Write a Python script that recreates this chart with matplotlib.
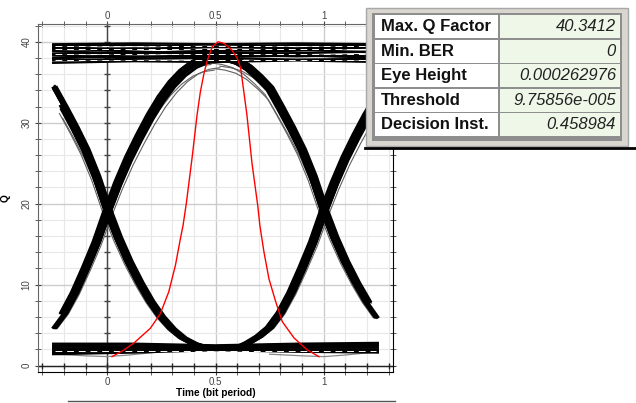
import numpy as np
import matplotlib.pyplot as plt
from matplotlib.patches import Rectangle

plt.rcParams['font.family'] = ['Liberation Sans', 'DejaVu Sans']

# edge templates, time relative to a bit boundary (crossing)
t_edge = [-0.5, -0.45, -0.4, -0.35, -0.3, -0.25, -0.2, -0.15, -0.1, -0.05, 0.0,
          0.05, 0.1, 0.15, 0.2, 0.25, 0.3, 0.35, 0.4, 0.45, 0.5]
q_rise = [2.0, 2.0, 2.2, 2.8, 3.6, 4.7, 6.5, 9.0, 12.0, 15.2, 19.0,
          22.5, 25.6, 28.3, 30.8, 33.0, 34.8, 36.2, 37.2, 37.8, 38.0]
q_fall = [38.2, 38.0, 37.6, 36.8, 35.6, 34.2, 31.8, 29.3, 26.6, 23.3, 19.3,
          15.8, 12.8, 10.2, 7.9, 6.0, 4.5, 3.4, 2.7, 2.3, 2.1]

# trace-to-trace spread of the edges (time shift, amplitude shift)
jit_dt = [-0.016, -0.012, -0.008, -0.004, 0.0, 0.004, 0.008, 0.012, 0.016,
          -0.021, 0.020, -0.006, 0.005]
jit_dq = [0.3, -0.2, 0.4, -0.3, 0.1, -0.1, 0.3, -0.4, 0.2,
          -0.8, -1.2, -1.5, 0.5]

# level bands ("1" and "0"), values at t = -0.25, 0.125, 0.5, 0.875, 1.25
band_t = [-0.25, 0.125, 0.5, 0.875, 1.25]
top_band = [[37.4, 37.6, 37.5, 37.7, 37.5], [37.7, 37.9, 38.0, 37.8, 37.9],
            [38.0, 38.2, 38.1, 38.3, 38.1], [38.3, 38.1, 38.4, 38.2, 38.4],
            [38.5, 38.7, 38.5, 38.6, 38.8], [38.8, 38.6, 38.9, 39.0, 38.7],
            [39.0, 39.2, 39.0, 39.1, 39.3], [39.3, 39.1, 39.4, 39.2, 39.4],
            [39.5, 39.6, 39.4, 39.6, 39.5], [39.7, 39.8, 39.7, 39.8, 39.7],
            [37.9, 38.5, 38.8, 38.4, 38.0], [39.2, 38.8, 38.5, 38.9, 39.4]]
top_streaks = [37.75, 38.45, 39.05, 39.45]
bot_band = [[1.4, 1.6, 1.9, 1.7, 1.6], [1.7, 1.8, 2.0, 1.9, 1.8],
            [1.9, 2.0, 2.1, 2.0, 2.0], [2.1, 2.2, 2.2, 2.2, 2.2],
            [2.3, 2.4, 2.3, 2.4, 2.4], [2.5, 2.6, 2.4, 2.6, 2.6],
            [2.7, 2.7, 2.5, 2.7, 2.8], [1.6, 1.9, 2.2, 1.8, 1.7]]
bot_streaks = [1.75]
dip_t = [-0.25, -0.1, 0.0, 0.1, 0.25]
dip_q = [1.4, 1.2, 1.1, 1.3, 1.7]

# Q factor versus sampling instant
qf_t = [0.022, 0.07, 0.122, 0.199, 0.245, 0.284, 0.315, 0.338, 0.350, 0.365, 0.392,
        0.415, 0.43, 0.446, 0.461, 0.485, 0.512, 0.54, 0.575, 0.6, 0.616, 0.63,
        0.645, 0.669, 0.695, 0.705, 0.724, 0.747, 0.778, 0.809, 0.863, 0.925, 0.978]
qf_q = [1.1, 1.8, 2.75, 4.6, 6.4, 9.1, 12.4, 15.7, 17.3, 20.0, 25.7,
        31.0, 33.8, 36.0, 37.6, 39.4, 40.0, 39.8, 39.0, 38.0, 36.8, 34.0,
        31.0, 24.9, 19.8, 17.3, 14.0, 10.7, 7.9, 5.4, 3.4, 1.9, 1.1]

table_labels = ['Max. Q Factor', 'Min. BER', 'Eye Height', 'Threshold', 'Decision Inst.']
table_values = ['40.3412', '0', '0.000262976', '9.75856e-005', '0.458984']

fig = plt.figure(figsize=(6.36, 4.03), dpi=100)
ax = fig.add_axes([38 / 636, 1 - 372 / 403, 355 / 636, 348 / 403])

t_edge = np.array(t_edge)
for i, (dt, dq) in enumerate(zip(jit_dt, jit_dq)):
    fringe = i >= 9
    col = '#606060' if fringe else 'black'
    lw = 0.8 if fringe else 2.0
    for shift in (0.0, 1.0):
        tt = t_edge + shift + dt
        m = (tt >= -0.25) & (tt <= 1.25)
        for qq in (q_rise, q_fall):
            q = np.array(qq) + dq * (np.array(qq) - 2) / 36
            ax.plot(tt[m], q[m], color=col, lw=lw, zorder=2 if fringe else 3)

for row in top_band + bot_band:
    ax.plot(band_t, row, color='black', lw=1.6, zorder=3)
for lvl in top_streaks + bot_streaks:
    ax.plot([-0.24, 1.24], [lvl, lvl], color='white', lw=0.7, ls=(0, (7, 5)), zorder=3)
for shift in (0.0, 1.0):
    tt = np.array(dip_t) + shift
    m = tt <= 1.25
    ax.plot(tt[m], np.array(dip_q)[m], color='#888888', lw=0.9, zorder=2)

ax.plot(qf_t, qf_q, color='red', lw=1.0, zorder=4)

ax.set_xlim(-0.32, 1.32)
ax.set_ylim(-0.8, 42.2)
ax.set_xticks([0, 0.5, 1])
ax.set_xticklabels(['0', '0.5', '1'])
ax.set_xticks(np.arange(-0.3, 1.31, 0.1), minor=True)
ax.set_yticks([0, 10, 20, 30, 40])
ax.set_yticks(np.arange(0, 42.1, 2), minor=True)
ax.tick_params(axis='x', which='both', top=True, direction='inout',
               labelsize=7, colors='#444444', pad=1)
ax.tick_params(axis='x', which='major', length=5)
ax.tick_params(axis='x', which='minor', length=4)
ax.tick_params(axis='y', which='both', right=True, direction='inout', labelsize=7,
               colors='#444444', pad=2)
ax.tick_params(axis='y', which='major', length=5)
ax.tick_params(axis='y', which='minor', length=4)
for lab in ax.get_yticklabels():
    lab.set_rotation(90)
    lab.set_va('center')
ax.grid(which='minor', color='#e8e8e8', lw=0.8, zorder=0)
ax.grid(which='major', color='#cccccc', lw=1.0, zorder=0)
ax.set_axisbelow(True)

sec = ax.secondary_xaxis('top')
sec.set_xticks([0, 0.5, 1])
sec.set_xticklabels(['0', '0.5', '1'])
sec.tick_params(length=0, pad=2, labelsize=7, colors='#444444')
sec.spines['top'].set_visible(False)

for s in ax.spines.values():
    s.set_color('#666666')
ax.spines['right'].set_color('black')
ax.spines['bottom'].set_color('black')
ax.spines['bottom'].set_linestyle((0, (1, 1)))

ax.axvline(0, color='#444444', lw=1.0, zorder=1)
ax.axhline(0, color='#222222', lw=1.0, zorder=1)
ym = np.arange(0, 42.1, 2)
xm = np.arange(-0.3, 1.31, 0.1)
ax.plot(np.zeros(len(ym)), ym, ls='none', marker='_', ms=5, color='#444444', zorder=1)
ax.plot(xm, np.zeros(len(xm)), ls='none', marker='|', ms=5, color='#222222', zorder=1)

ax.set_xlabel('Time (bit period)', fontsize=7.3, fontweight='bold', labelpad=1)
ax.set_ylabel('Q', fontsize=7.3, fontweight='bold', labelpad=8)

# results panel, drawn in pixel coordinates
tab = fig.add_axes([0, 0, 1, 1], zorder=5)
tab.set_xlim(0, 636)
tab.set_ylim(403, 0)
tab.axis('off')
tab.add_patch(Rectangle((366, 8), 262, 138, facecolor='#d9d6d0', edgecolor='#a8a8a8', lw=1))
tab.add_patch(Rectangle((372, 13), 250, 128, facecolor='#8e8e8e', edgecolor='none'))
row_h = 24.6
for i, (lab, val) in enumerate(zip(table_labels, table_values)):
    y0 = 15 + i * row_h
    tab.add_patch(Rectangle((375, y0), 123, row_h - 1.6, facecolor='white', edgecolor='none'))
    tab.add_patch(Rectangle((500, y0), 120, row_h - 1.6, facecolor='#eef7e8', edgecolor='none'))
    yc = y0 + (row_h - 1.6) / 2
    tab.text(381, yc, lab, fontsize=12, fontweight='bold', va='center', ha='left', color='#111111')
    tab.text(616, yc, val, fontsize=12, fontstyle='italic', va='center', ha='right', color='#222222')
tab.plot([365, 636], [147.5, 147.5], color='black', lw=2)
tab.plot([68, 395], [401, 401], color='#555555', lw=1)

fig.savefig('out.png', dpi=100)
